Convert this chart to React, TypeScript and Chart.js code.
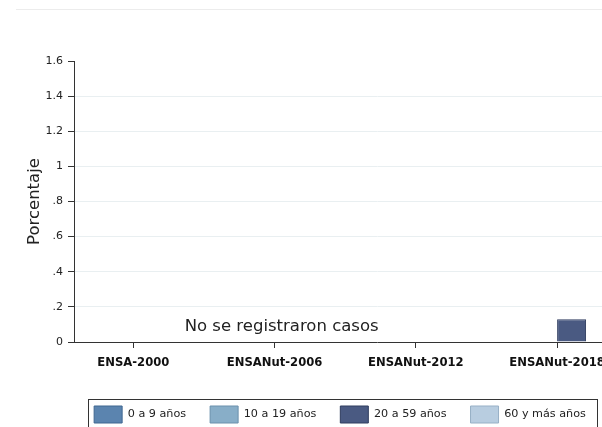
import React, { useEffect, useRef } from "react";
import { Chart, registerables } from "chart.js";

Chart.register(...registerables);

const categories = ["ENSA-2000", "ENSANut-2006", "ENSANut-2012", "ENSANut-2018"];
const seriesNames = ["0 a 9 años", "10 a 19 años", "20 a 59 años", "60 y más años"];
const age0to9 = [0, 0, 0, 0];
const age10to19 = [0, 0, 0, 0];
const age20to59 = [0, 0, 0, 0.13];
const age60plus = [0, 0, 0, 0];
const yTicks = [0, 0.2, 0.4, 0.6, 0.8, 1, 1.2, 1.4, 1.6];
const yTitle = "Porcentaje";
const noteText = "No se registraron casos";
const notePos = { x: 1.05, y: 0.085 };

const colors = ["#5b84af", "#88aec8", "#4a5a82", "#b8cde0"];
const borders = ["#3f6690", "#6a90ac", "#2e3c5e", "#97b0c6"];
const FONT = "'DejaVu Sans', sans-serif";

function fmtTick(v: number): string {
  const r = Math.round(v * 10) / 10;
  if (r === 0) return "0";
  const s = String(r);
  return s.startsWith("0.") ? s.slice(1) : s;
}

export default function App() {
  const ref = useRef<HTMLCanvasElement | null>(null);
  useEffect(() => {
    if (!ref.current) return;
    const series = [age0to9, age10to19, age20to59, age60plus];
    const decor = {
      id: "decor",
      beforeDraw(chart: any) {
        const ctx = chart.ctx;
        ctx.save();
        ctx.strokeStyle = "#ececec";
        ctx.lineWidth = 1;
        ctx.beginPath();
        ctx.moveTo(16, 9.5);
        ctx.lineTo(chart.width, 9.5);
        ctx.stroke();
        ctx.restore();
      },
      afterDraw(chart: any) {
        const ctx = chart.ctx;
        const xs = chart.scales.x;
        const ys = chart.scales.y;
        ctx.save();
        ctx.font = `16.5px ${FONT}`;
        ctx.fillStyle = "#222";
        ctx.textAlign = "center";
        ctx.textBaseline = "middle";
        ctx.fillText(noteText, xs.getPixelForValue(notePos.x), ys.getPixelForValue(notePos.y));
        const hb = chart.legend && chart.legend.legendHitBoxes;
        if (hb && hb.length) {
          const first = hb[0];
          const last = hb[hb.length - 1];
          const left = Math.round(first.left - 6) + 0.5;
          const top = Math.round(first.top - 7) + 0.5;
          const right = Math.round(last.left + last.width + 11) + 0.5;
          ctx.strokeStyle = "#333";
          ctx.lineWidth = 1;
          ctx.strokeRect(left, top, right - left, 80);
        }
        ctx.restore();
      },
    };
    const chart = new Chart(ref.current, {
      type: "bar",
      data: {
        datasets: series.map((vals, k) => ({
          label: seriesNames[k],
          data: vals.map((v, i) => ({ x: i, y: v })),
          backgroundColor: colors[k],
          borderColor: borders[k],
          borderWidth: 1,
          categoryPercentage: 0.82,
          barPercentage: 1,
        })),
      },
      options: {
        animation: false,
        responsive: false,
        devicePixelRatio: 1,
        events: [],
        layout: { padding: { top: 61, left: 0, right: 0, bottom: 0 } },
        plugins: {
          tooltip: { enabled: false },
          legend: {
            position: "bottom",
            labels: {
              boxWidth: 28,
              boxHeight: 17,
              padding: 24,
              color: "#222",
              font: { family: FONT, size: 11.2 },
            },
          },
        },
        scales: {
          x: {
            type: "linear",
            offset: false,
            min: -0.42,
            max: 3.87,
            afterBuildTicks: (scale: any) => {
              scale.ticks = categories.map((_, i) => ({ value: i }));
            },
            afterFit: (scale: any) => {
              scale.height = 40;
            },
            ticks: {
              autoSkip: false,
              maxRotation: 0,
              padding: 8,
              color: "#111",
              font: { family: FONT, size: 11.6, weight: "bold" },
              callback: (v: any) => categories[Math.round(Number(v))] ?? "",
            },
            grid: { offset: false, drawOnChartArea: false, drawTicks: true, tickLength: 6, tickColor: "#333" },
            border: { display: true, color: "#333", width: 1 },
          },
          y: {
            min: 0,
            max: 1.6,
            afterBuildTicks: (scale: any) => {
              scale.ticks = yTicks.map((v) => ({ value: v }));
            },
            afterFit: (scale: any) => {
              scale.width = 74;
            },
            ticks: {
              padding: 5,
              color: "#222",
              font: { family: FONT, size: 11 },
              callback: (v: any) => fmtTick(Number(v)),
            },
            grid: {
              color: (c: any) => {
                const v = c.tick ? c.tick.value : 0;
                return v <= 0.001 || v >= 1.599 ? "rgba(0,0,0,0)" : "#e9eff1";
              },
              tickColor: "#333",
              tickLength: 6,
              drawTicks: true,
            },
            border: { display: true, color: "#333", width: 1 },
            title: {
              display: true,
              text: yTitle,
              color: "#222",
              font: { family: FONT, size: 16.5 },
              padding: { top: 25, bottom: 0 },
            },
          },
        },
      },
      plugins: [decor],
    } as any);
    return () => chart.destroy();
  }, []);
  return (
    <div style={{ position: "absolute", left: 0, top: 0, width: 602, height: 427, overflow: "hidden", background: "#fff" }}>
      <canvas ref={ref} width={680} height={433} style={{ display: "block" }} />
    </div>
  );
}
